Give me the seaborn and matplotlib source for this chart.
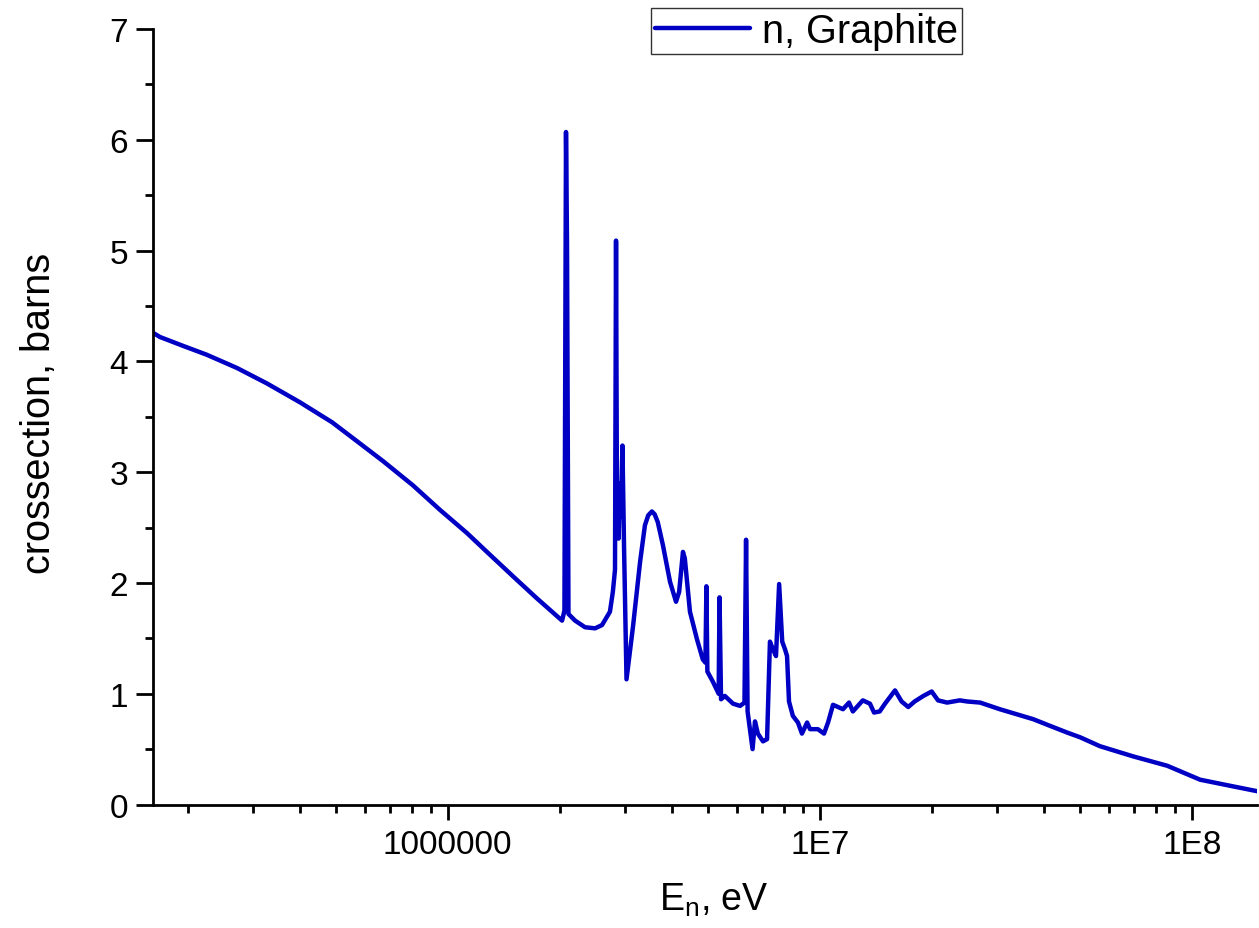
import matplotlib
matplotlib.use("Agg")
import matplotlib.pyplot as plt
import matplotlib.ticker as mticker
import numpy as np
import pandas as pd
import seaborn as sns

# Neutron total cross section of graphite (carbon), eV vs barns
energy_ev = [
    1.61e5, 1.685e5, 1.943e5, 2.25e5, 2.715e5, 3.27e5, 4.01e5, 4.89e5, 5.70e5,
    6.70e5, 8.07e5, 9.53e5, 1.127e6, 1.275e6, 1.498e6, 1.738e6, 2.03e6,
    2.06e6, 2.08e6, 2.093e6, 2.112e6, 2.20e6, 2.34e6, 2.49e6, 2.60e6, 2.73e6,
    2.78e6, 2.817e6, 2.835e6, 2.85e6, 2.88e6, 2.905e6, 2.92e6, 2.95e6, 2.98e6,
    3.025e6, 3.15e6, 3.29e6, 3.39e6, 3.46e6, 3.54e6, 3.60e6, 3.67e6, 3.79e6,
    3.96e6, 4.11e6, 4.19e6, 4.29e6, 4.34e6, 4.48e6, 4.68e6, 4.85e6, 4.93e6,
    4.96e6, 4.99e6, 5.16e6, 5.35e6, 5.38e6, 5.43e6, 5.56e6, 5.85e6, 6.11e6,
    6.278e6, 6.34e6, 6.40e6, 6.60e6, 6.70e6, 6.82e6, 7.04e6, 7.22e6, 7.35e6,
    7.49e6, 7.63e6, 7.78e6, 7.93e6, 8.07e6, 8.17e6, 8.27e6, 8.47e6, 8.74e6,
    8.96e6, 9.25e6, 9.42e6, 9.89e6, 1.027e7, 1.053e7, 1.086e7, 1.12e7,
    1.155e7, 1.199e7, 1.228e7, 1.306e7, 1.365e7, 1.40e7, 1.45e7, 1.498e7,
    1.594e7, 1.66e7, 1.73e7, 1.80e7, 1.90e7, 2.00e7, 2.08e7, 2.20e7, 2.38e7,
    2.49e7, 2.70e7, 3.05e7, 3.75e7, 4.16e7, 4.62e7, 5.01e7, 5.67e7, 6.95e7,
    8.59e7, 1.053e8, 1.29e8, 1.52e8,
]
cross_section_b = [
    4.26, 4.22, 4.14, 4.06, 3.94, 3.80, 3.63, 3.45, 3.28,
    3.10, 2.88, 2.66, 2.45, 2.28, 2.06, 1.86, 1.66,
    1.75, 6.07, 5.08, 1.72, 1.66, 1.60, 1.59, 1.62, 1.74,
    1.92, 2.12, 5.09, 2.90, 2.40, 2.90, 2.60, 3.24, 2.30,
    1.13, 1.61, 2.19, 2.52, 2.61, 2.645, 2.62, 2.55, 2.34,
    2.01, 1.83, 1.92, 2.28, 2.22, 1.74, 1.49, 1.31, 1.28,
    1.97, 1.20, 1.11, 1.00, 1.87, 0.95, 0.98, 0.91, 0.89,
    0.92, 2.39, 0.84, 0.50, 0.75, 0.64, 0.57, 0.59, 1.47,
    1.40, 1.34, 1.99, 1.47, 1.40, 1.34, 0.93, 0.80, 0.74,
    0.64, 0.74, 0.68, 0.68, 0.64, 0.74, 0.90, 0.88,
    0.86, 0.92, 0.84, 0.94, 0.91, 0.83, 0.84, 0.91,
    1.03, 0.93, 0.88, 0.93, 0.98, 1.02, 0.94, 0.92, 0.94,
    0.93, 0.92, 0.86, 0.77, 0.71, 0.65, 0.607, 0.526, 0.435,
    0.35, 0.224, 0.164, 0.116,
]

series_name = "n, Graphite"
x_tick_values = [1e6, 1e7, 1e8]
x_tick_labels = ["1000000", "1E7", "1E8"]
y_tick_values = [0, 1, 2, 3, 4, 5, 6, 7]

df = pd.DataFrame({"E": energy_ev, "sigma": cross_section_b, "series": series_name})

sns.set_theme(style="white")
plt.rcParams["font.family"] = ["Liberation Sans", "DejaVu Sans"]
plt.rcParams["text.color"] = "black"
plt.rcParams["mathtext.fontset"] = "custom"
plt.rcParams["mathtext.rm"] = "Liberation Sans"
plt.rcParams["mathtext.it"] = "Liberation Sans"

fig = plt.figure(figsize=(12.59, 9.29), dpi=100)
ax = fig.add_axes([153 / 1259, 1 - 805.5 / 929, (1257 - 153) / 1259, (805.5 - 30) / 929])

line_color = "#0000C4"
sns.lineplot(data=df, x="E", y="sigma", hue="series", palette=[line_color],
             estimator=None, sort=False, linewidth=3.2, ax=ax, legend=False)

ax.set_xscale("log")
ax.set_xlim(1.614e5, 1.498e8)
ax.set_ylim(0, 7)

ax.xaxis.set_major_locator(mticker.FixedLocator(x_tick_values))
ax.xaxis.set_major_formatter(mticker.FixedFormatter(x_tick_labels))
ax.xaxis.set_minor_locator(mticker.LogLocator(base=10, subs=np.arange(2, 10)))
ax.xaxis.set_minor_formatter(mticker.NullFormatter())
ax.yaxis.set_major_locator(mticker.FixedLocator(y_tick_values))
ax.yaxis.set_minor_locator(mticker.MultipleLocator(0.5))

for side in ["top", "right"]:
    ax.spines[side].set_visible(False)
for side in ["left", "bottom"]:
    ax.spines[side].set_color("black")
    ax.spines[side].set_linewidth(2.0)

ax.tick_params(axis="both", which="major", direction="out", color="black",
               width=2.0, labelsize=24, labelcolor="black")
ax.tick_params(axis="x", which="major", length=11, pad=7)
ax.tick_params(axis="y", which="major", length=12, pad=6)
ax.tick_params(axis="x", which="minor", direction="out", length=5.5, width=2.0, color="black")
ax.tick_params(axis="y", which="minor", direction="out", length=5.5, width=2.0, color="black")
ax.tick_params(bottom=True, left=True, which="both")

ax.set_xlabel(r"E$_\mathregular{n}$, eV", fontsize=27, color="black")
ax.set_ylabel("crossection, barns", fontsize=28.5, color="black")
ax.xaxis.set_label_coords(0.508, -0.098)
ax.yaxis.set_label_coords(-0.086, 0.505)

handle = plt.Line2D([], [], color=line_color, linewidth=3.2)
leg = fig.legend([handle], [series_name], loc="upper left",
                 bbox_to_anchor=(651 / 1259, 1 - 9 / 929), fontsize=28.5,
                 frameon=True, fancybox=False, edgecolor="black",
                 handlelength=2.4, handletextpad=0.3, borderpad=0.1,
                 borderaxespad=0.0, labelcolor="black")
leg.get_frame().set_linewidth(1.0)

fig.savefig("out.png", dpi=100)
